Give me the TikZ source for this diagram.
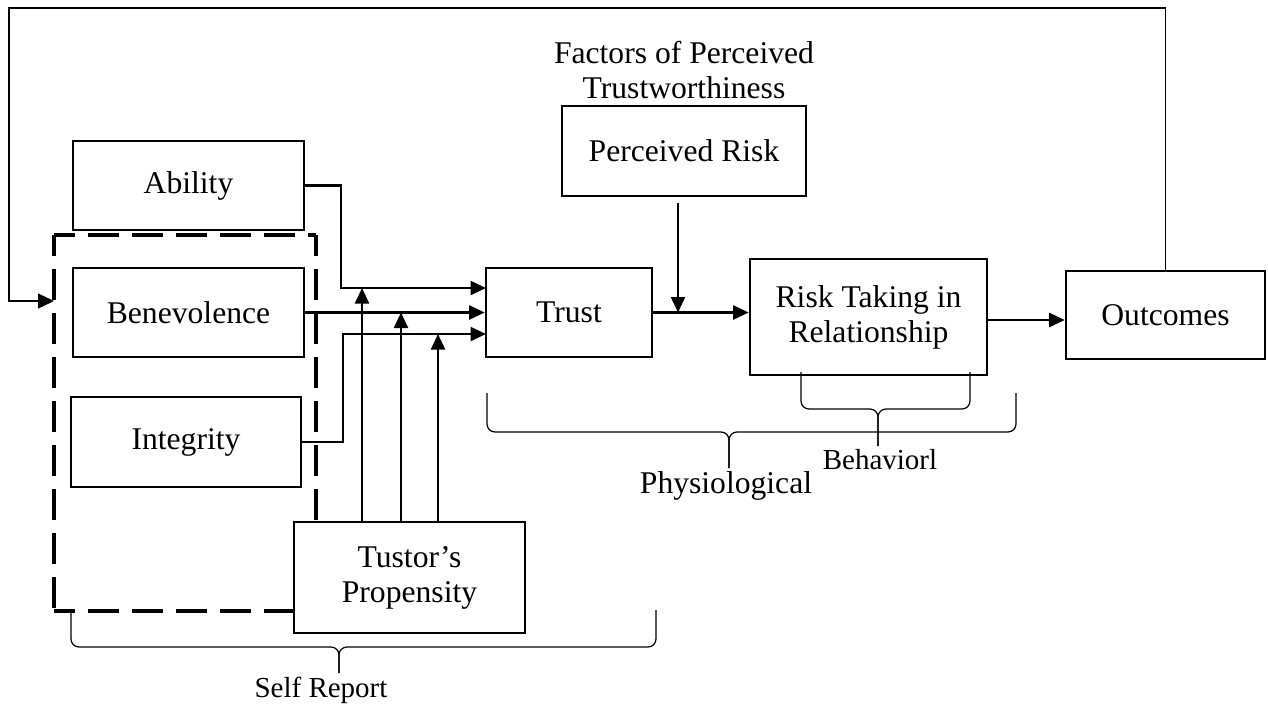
\documentclass[tikz,border=0pt]{standalone}
\usepackage{fontspec}
\setmainfont{Liberation Serif}
\usepackage{tikz}
\usetikzlibrary{positioning, arrows.meta}

\begin{document}
\begin{tikzpicture}[
            x=0.02cm, y=-0.02cm,
            font=\fontsize{18}{20}\selectfont,
            box/.style={draw, line width=1.5pt, fill=white, inner sep=0pt, align=center},
            arr/.style={line width=1.3pt, -{Triangle[length=3.1mm, width=2.8mm]}},
            thinline/.style={line width=0.7pt},
            dashside/.style={line width=1.8pt, dash pattern=on 0.62cm off 0.26cm, dash phase=0.2cm},
            bracel/.style={line width=0.7pt, rounded corners=0.16cm},
            small/.style={font=\fontsize{16.5}{18}\selectfont}
        ]

            \useasboundingbox (0,0) rectangle (1268,708);

            % dashed group round the trustworthiness factors
            \coordinate (gtl) at (54,235);
            \coordinate (gbr) at (316,611);
            \draw[dashside] (gtl) -- (gtl -| gbr);
            \draw[dashside] (gtl) -- (gtl |- gbr);
            \draw[dashside] (gtl -| gbr) -- (gbr);
            \draw[dashside] (gtl |- gbr) -- (gbr);

            \node[box, minimum width=4.62cm, minimum height=1.78cm] (ability) at (188.5,185.5) {Ability};
            \node[box, minimum width=4.62cm, minimum height=1.78cm] (benev) at (188.5,312.5) {Benevolence};
            \node[box, minimum width=4.6cm, minimum height=1.8cm] (integ) at (186,442) {Integrity};
            \node[box, minimum width=4.62cm, minimum height=2.22cm] (tustor) at (409.5,577.5) {Tustor's\\Propensity};
            \node[box, minimum width=3.32cm, minimum height=1.78cm] (trust) at (569,312.5) {Trust};
            \node[box, minimum width=4.88cm, minimum height=1.8cm] (prisk) at (684,151) {Perceived Risk};
            \node[box, minimum width=4.74cm, minimum height=2.32cm] (risk) at (868.5,317) {Risk Taking in\\Relationship};
            \node[box, minimum width=3.98cm, minimum height=1.76cm] (outcomes) at (1165.5,315) {Outcomes};
            \node[align=center, inner sep=0pt, above=3pt of prisk] (factors) {Factors of Perceived\\Trustworthiness};

            % arrow ends on the trust box and the junctions
            \coordinate (t1) at (486,288);
            \coordinate (t3) at (486,334);
            \coordinate (u1) at (362,288);
            \coordinate (u2) at (401,312.5);
            \coordinate (u3) at (438,334);
            \coordinate (pj) at (678,312.5);
            \coordinate (topline) at (9,8);
            \coordinate (fbin) at (54,301);

            \draw[arr] (ability.east) -| (341,288) -- (t1);
            \draw[arr] (benev.east) -- (trust.west);
            \draw[arr] (integ.east) -| (343,334) -- (t3);
            \draw[arr] (u1 |- tustor.north) -- (u1);
            \draw[arr] (u2 |- tustor.north) -- (u2);
            \draw[arr] (u3 |- tustor.north) -- (u3);

            \draw[arr] (trust.east) -- (risk.west |- trust.east);
            \draw[arr] ([yshift=-0.12cm]pj |- prisk.south) -- (pj);
            \draw[arr] ([yshift=-0.06cm]risk.east) -- ([yshift=-0.06cm]outcomes.west |- risk.east);

            % feedback from outcomes
            \draw[thinline, -{Triangle[length=3.2mm, width=3mm]}] (outcomes.north) -- (outcomes.north |- topline) -- (topline) |- (fbin);

            % braces
            \draw[bracel] (71,612) -- (71,647) -- (339,647) -- (339,673);
            \draw[bracel] (656,610) -- (656,647) -- (339,647) -- (339,673);
            \draw[bracel] (487,393) -- (487,432) -- (729,432) -- (729,468);
            \draw[bracel] (1016,393) -- (1016,432) -- (729,432) -- (729,468);
            \draw[bracel] (801,372) -- (801,409) -- (878,409) -- (878,446);
            \draw[bracel] (970,372) -- (970,409) -- (878,409) -- (878,446);

            \node[small] (selfrep) at (321,690) {Self Report};
            \node (physio) at (726,486) {Physiological};
            \node[small] (behav) at (880,460) {Behaviorl};
        \end{tikzpicture}
\end{document}
